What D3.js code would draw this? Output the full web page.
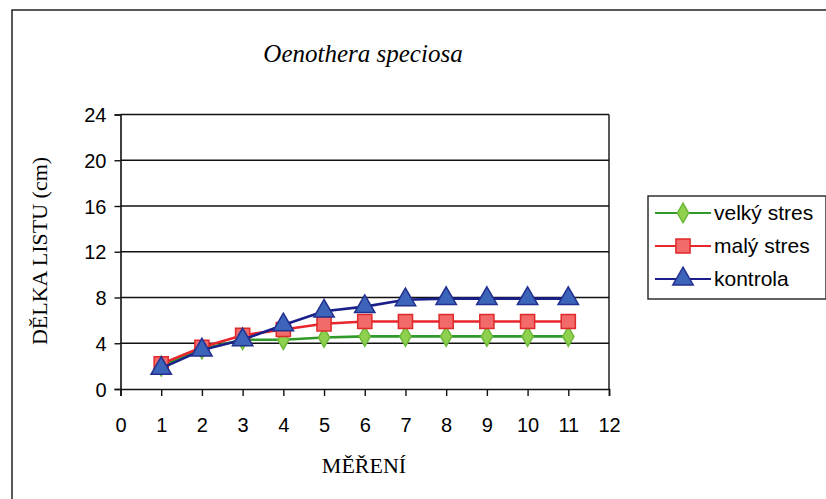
<!DOCTYPE html>
<html><head><meta charset="utf-8">
<script src="https://cdn.jsdelivr.net/npm/d3@7"></script>
<style>body{margin:0;background:#fff;}svg{display:block;}</style>
</head><body>
<svg id="c" width="826" height="499"></svg>
<script>
const measurements = [1,2,3,4,5,6,7,8,9,10,11];
const velkyStres = [2.0,3.5,4.3,4.3,4.5,4.6,4.6,4.6,4.6,4.6,4.6];
const malyStres  = [2.2,3.65,4.7,5.2,5.7,5.9,5.9,5.9,5.9,5.9,5.9];
const kontrola   = [1.8,3.4,4.3,5.6,6.8,7.2,7.8,7.9,7.9,7.9,7.9];
const seriesNames = ["velký stres","malý stres","kontrola"];
const xTicks = [0,1,2,3,4,5,6,7,8,9,10,11,12];
const yTicks = [0,4,8,12,16,20,24];

const svg = d3.select("#c");
const L=120.5, R=609, T=114.5, B=389;
const x = d3.scaleLinear().domain([0,12]).range([L,R]);
const y = d3.scaleLinear().domain([0,24]).range([B,T]);

// outer frame
svg.append("path").attr("d","M12,499 L12,10 L826,10").attr("fill","none").attr("stroke","#222").attr("stroke-width",1.5);

// title
svg.append("text").attr("x",363).attr("y",62).attr("text-anchor","middle")
  .attr("font-family","Liberation Serif, serif").attr("font-style","italic").attr("font-size",25).text("Oenothera speciosa");

// gridlines
svg.append("g").selectAll("line").data(yTicks.filter(d=>d>0)).join("line")
  .attr("x1",L).attr("x2",R).attr("y1",d=>y(d)).attr("y2",d=>y(d)).attr("stroke","#111").attr("stroke-width",1.4);
// right border
svg.append("line").attr("x1",R).attr("x2",R).attr("y1",T).attr("y2",B).attr("stroke","#111").attr("stroke-width",1.4);

// axes
const yAxis = d3.axisLeft(y).tickValues(yTicks).tickSize(6).tickPadding(8);
const gy = svg.append("g").attr("transform",`translate(${L},0)`).call(yAxis);
const xAxis = d3.axisBottom(x).tickValues(xTicks).tickSize(7).tickPadding(22);
const gx = svg.append("g").attr("transform",`translate(0,${B})`).call(xAxis);
[gy,gx].forEach(g=>{
  g.select(".domain").attr("stroke","#111").attr("stroke-width",1.6);
  g.selectAll(".tick line").attr("stroke","#111").attr("stroke-width",1.4);
  g.selectAll(".tick text").attr("font-family","Liberation Sans, Arial, sans-serif").attr("font-size",20).attr("fill","#000");
});
gy.selectAll(".tick text").attr("dy","0.35em");

// axis titles
svg.append("text").attr("transform","translate(47,251) rotate(-90)").attr("text-anchor","middle")
  .attr("font-family","Liberation Serif, serif").attr("font-size",22).text("DĚLKA LISTU (cm)");
svg.append("text").attr("x",364).attr("y",473).attr("text-anchor","middle")
  .attr("font-family","Liberation Serif, serif").attr("font-size",22).text("MĚŘENÍ");

const styles = [
  {data:velkyStres, line:"#2f9a2a", fill:"#8fd04e", stroke:"#6cb83a", sym:d3.symbolDiamond, size:110},
  {data:malyStres, line:"#e8242c", fill:"#f26a6a", stroke:"#e02a2a", sym:d3.symbolSquare, size:200},
  {data:kontrola, line:"#1b1f8a", fill:"#3c64b8", stroke:"#22308f", sym:d3.symbolTriangle, size:180}
];
const line = d3.line().x((d,i)=>x(measurements[i])).y(d=>y(d));
styles.forEach(s=>{
  svg.append("path").datum(s.data).attr("d",line).attr("fill","none").attr("stroke",s.line).attr("stroke-width",2.6);
  svg.append("g").selectAll("path").data(s.data).join("path")
    .attr("transform",(d,i)=>`translate(${x(measurements[i])},${y(d)})`)
    .attr("d",d3.symbol().type(s.sym).size(s.size)).attr("fill",s.fill).attr("stroke",s.stroke).attr("stroke-width",1.5);
});

// legend
const lg = svg.append("g");
lg.append("rect").attr("x",648).attr("y",196).attr("width",178).attr("height",103).attr("fill","#fff").attr("stroke","#222").attr("stroke-width",1.4);
seriesNames.forEach((n,i)=>{
  const s=styles[i], cy=213+i*33;
  lg.append("line").attr("x1",655).attr("x2",711).attr("y1",cy).attr("y2",cy).attr("stroke",s.line).attr("stroke-width",2.2);
  lg.append("path").attr("transform",`translate(683,${cy})`).attr("d",d3.symbol().type(s.sym).size(s.size)).attr("fill",s.fill).attr("stroke",s.stroke).attr("stroke-width",1.5);
  lg.append("text").attr("x",714).attr("y",cy+7).attr("font-family","Liberation Sans, Arial, sans-serif").attr("font-size",21).text(n);
});
</script>
</body></html>
